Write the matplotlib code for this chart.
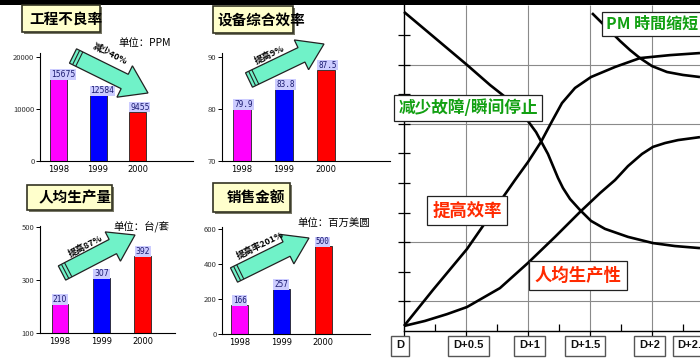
import matplotlib
matplotlib.use('Agg')
import matplotlib.pyplot as plt
import matplotlib.patches as mpatches
import numpy as np
from matplotlib.transforms import blended_transform_factory

plt.rcParams['font.family'] = ['Noto Sans CJK SC', 'DejaVu Sans']

# ---------------- data ----------------
years = ['1998', '1999', '2000']
bar_colors = ['#ff00ff', '#0000ff', '#ff0000']

defect_title = '工程不良率'
defect_unit = '单位：PPM'
defect_values = [15675, 12584, 9455]
defect_labels = ['15675', '12584', '9455']
defect_yticks = [0, 10000, 20000]
defect_arrow_text = '减少40%'

oee_title = '设备综合效率'
oee_values = [79.9, 83.8, 87.5]
oee_labels = ['79.9', '83.8', '87.5']
oee_yticks = [70, 80, 90]
oee_arrow_text = '提高9%'

prod_title = '人均生产量'
prod_unit = '单位：台/套'
prod_values = [210, 307, 392]
prod_labels = ['210', '307', '392']
prod_yticks = [100, 300, 500]
prod_arrow_text = '提高87%'

sales_title = '销售金额'
sales_unit = '单位：百万美圆'
sales_values = [166, 257, 500]
sales_labels = ['166', '257', '500']
sales_yticks = [0, 200, 400, 600]
sales_arrow_text = '提高率201%'

# right chart (x in D units, y in tick units)
phase_ticks = [0, 0.5, 1, 1.5, 2]
phase_minor = [0.25, 0.75, 1.25, 1.75, 2.25]
phase_labels = ['D', 'D+0.5', 'D+1', 'D+1.5', 'D+2', 'D+2.5']
phase_label_x = [-0.03, 0.52, 1.01, 1.46, 1.98, 2.33]
level_ticks = [1, 2, 3, 4, 5, 6, 7, 8, 9, 10]
level_grid = [1, 3, 7, 9]

fault_x = [0.0, 0.25, 0.508, 0.694, 0.815, 0.919, 1.0, 1.065, 1.113, 1.161, 1.202, 1.242,
           1.282, 1.339, 1.419, 1.508, 1.621, 1.806, 2.008, 2.185, 2.387]
fault_y = [10.78, 9.90, 8.99, 8.31, 7.91, 7.47, 7.09, 6.72, 6.35, 5.98, 5.57, 5.17,
           4.83, 4.46, 4.09, 3.72, 3.45, 3.18, 2.97, 2.87, 2.80]

pm_x = [1.516, 1.581, 1.661, 1.742, 1.823, 1.903, 2.0, 2.121, 2.25, 2.387]
pm_y = [10.74, 10.47, 10.14, 9.80, 9.49, 9.22, 8.95, 8.75, 8.65, 8.58]

eff_x = [0.0, 0.234, 0.508, 0.710, 0.895, 1.0, 1.105, 1.194, 1.274, 1.379, 1.508, 1.702,
         1.903, 2.145, 2.387]
eff_y = [0.17, 1.39, 2.77, 3.99, 5.10, 5.71, 6.39, 7.09, 7.70, 8.21, 8.58, 8.92,
         9.22, 9.32, 9.39]

prodc_x = [0.0, 0.169, 0.347, 0.508, 0.774, 1.0, 1.218, 1.419, 1.581, 1.702, 1.806, 1.919,
           2.008, 2.105, 2.21, 2.387]
prodc_y = [0.17, 0.34, 0.57, 0.81, 1.45, 2.30, 3.18, 4.02, 4.66, 5.10, 5.57, 5.98,
           6.22, 6.35, 6.45, 6.55]

# ---------------- figure ----------------
W, H = 700, 364
fig = plt.figure(figsize=(W / 100, H / 100), dpi=100)
fig.patch.set_facecolor('white')


def ax_px(l, t, r, b, **kw):
    return fig.add_axes([l / W, 1 - b / H, (r - l) / W, (b - t) / H], **kw)


def bar_panel(l, t, r, b, centers, bw_px, ylim, values, labels, yticks, mono=False):
    s = (centers[2] - centers[0]) / 2.0
    ax = ax_px(l, t, r, b)
    ax.set_xlim((l - centers[0]) / s, (r - centers[0]) / s)
    ax.set_ylim(*ylim)
    x = np.arange(len(values))
    w = bw_px / s
    ax.bar(x, values, width=w, color=bar_colors, edgecolor='#222222', linewidth=0.6, zorder=2)
    fam = ['DejaVu Sans Mono'] if mono else ['DejaVu Sans']
    for xi, v, lab in zip(x, values, labels):
        ax.text(xi - w / 2 + 0.03, v, lab, ha='left', va='bottom', fontsize=5.5,
                color='#1a1a70', family=fam,
                bbox=dict(boxstyle='square,pad=0.1', facecolor='#ccccff', edgecolor='none'),
                zorder=3)
    for sp in ['top', 'right']:
        ax.spines[sp].set_visible(False)
    ax.spines['left'].set_linewidth(0.8)
    ax.spines['bottom'].set_linewidth(0.8)
    ax.set_yticks(yticks)
    ax.set_yticklabels([str(v) for v in yticks], fontsize=5.5, color='#333333')
    ax.tick_params(axis='y', length=3, width=0.7, pad=1)
    ax.set_xticks(x)
    ax.set_xticklabels(years, fontsize=6, family=['DejaVu Sans'])
    ax.tick_params(axis='x', length=0, pad=3)
    ax.patch.set_alpha(0)
    return ax


bar_panel(40, 53, 193, 161, (58.5, 98, 137.5), 17, (0, 20710), defect_values, defect_labels, defect_yticks)
bar_panel(222, 53, 390, 160.7, (242, 284, 326), 18, (70, 90.7), oee_values, oee_labels, oee_yticks, mono=True)
bar_panel(40, 226, 175, 333.3, (60, 101.5, 142.5), 16.5, (100, 505), prod_values, prod_labels, prod_yticks)
bar_panel(222, 227, 370, 334, (240, 281.5, 323), 17, (0, 611), sales_values, sales_labels, sales_yticks, mono=True)

# ---------------- right chart ----------------
axr = ax_px(404, 5, 700, 331)
xmax = 296 / 124.0
ymax = 326 / 29.6
axr.set_xlim(0, xmax)
axr.set_ylim(0, ymax)
axr.vlines(phase_ticks[1:], 0, ymax, color='#8a8a8a', linewidth=0.8, zorder=1)
axr.hlines(level_grid, 0, xmax, color='#8a8a8a', linewidth=0.8, zorder=1)
for cx, cy in [(fault_x, fault_y), (pm_x, pm_y), (eff_x, eff_y), (prodc_x, prodc_y)]:
    axr.plot(cx, cy, color='black', linewidth=1.9, solid_capstyle='butt',
             solid_joinstyle='round', zorder=3, clip_on=False)
for sp in ['top', 'right']:
    axr.spines[sp].set_visible(False)
axr.spines['left'].set_linewidth(1.0)
axr.spines['bottom'].set_linewidth(1.0)
axr.set_yticks(level_ticks)
axr.set_yticklabels([])
axr.tick_params(axis='y', direction='inout', length=8, width=0.9)
axr.set_xticks(phase_ticks)
axr.set_xticklabels([])
axr.set_xticks(phase_minor, minor=True)
axr.tick_params(axis='x', which='major', direction='out', length=5, width=0.9)
axr.tick_params(axis='x', which='minor', direction='in', length=5, width=0.9)
axr.patch.set_alpha(0)

green = '#12a012'
red = '#ff2a00'
box_kw = dict(boxstyle='square,pad=0.24', facecolor='white', edgecolor='#222222', linewidth=0.9)
axr.text(1.63, 10.37, 'PM 時間缩短', ha='left', va='center', fontsize=11.5, color=green,
         weight='bold', bbox=box_kw, zorder=5, clip_on=False)
axr.text(0.516, 7.55, '减少故障/瞬间停止', ha='center', va='center', fontsize=12, color=green,
         weight='bold', bbox=box_kw, zorder=5, clip_on=False)
axr.text(0.508, 4.07, '提高效率', ha='center', va='center', fontsize=12.5, color=red,
         weight='bold', bbox=dict(box_kw, boxstyle='square,pad=0.3'), zorder=5, clip_on=False)
axr.text(1.403, 1.875, '人均生产性', ha='center', va='center', fontsize=12.5, color=red,
         weight='bold', bbox=dict(box_kw, boxstyle='square,pad=0.3'), zorder=5, clip_on=False)

# ---------------- overlay (pixel coordinates) ----------------
ov = fig.add_axes([0, 0, 1, 1], zorder=10)
ov.set_xlim(0, W)
ov.set_ylim(H, 0)
ov.axis('off')
ov.patch.set_alpha(0)

# phase labels in boxes
tr = blended_transform_factory(axr.transData, ov.transData)
for lx, lab in zip(phase_label_x, phase_labels):
    ov.text(lx, 345.5, lab, transform=tr, ha='center', va='center', fontsize=8,
            family=['Liberation Sans'], weight='bold', color='#111111',
            bbox=dict(boxstyle='square,pad=0.45', facecolor='white', edgecolor='#555555', linewidth=1.0),
            clip_on=False)

# black band at top
ov.add_patch(mpatches.Rectangle((0, 0), W, 5, facecolor='black', edgecolor='none'))


def title_box(x0, y0, x1, y1, text, tx, ty):
    ov.add_patch(mpatches.Rectangle((x0 + 2, y0 + 2), x1 - x0, y1 - y0, facecolor='#777766', edgecolor='none'))
    ov.add_patch(mpatches.Rectangle((x0, y0), x1 - x0, y1 - y0, facecolor='#ffffcc', edgecolor='#333322', linewidth=1.2))
    ov.text(tx, ty, text, ha='center', va='center', fontsize=10.5, color='black', weight='bold')


title_box(22, 5, 100, 32, defect_title, 66, 19)
title_box(213, 6, 293, 33, oee_title, 261, 19.5)
title_box(27, 185, 112, 210, prod_title, 75, 197)
title_box(213, 183, 290, 212, sales_title, 256, 197)

ov.text(118, 43, defect_unit, ha='left', va='center', fontsize=7.5, color='black')
ov.text(113, 226, prod_unit, ha='left', va='center', fontsize=7.5, color='black')
ov.text(297, 223, sales_unit, ha='left', va='center', fontsize=7.5, color='black')


def draw_arrow(tail, tip, sw, hw, hl, text, tpos):
    tail = np.array(tail, float)
    tip = np.array(tip, float)
    d = tip - tail
    L = np.hypot(*d)
    u = d / L
    n = np.array([-u[1], u[0]])
    base = tip - u * hl
    pts = [tail + n * sw / 2, base + n * sw / 2, base + n * hw / 2, tip,
           base - n * hw / 2, base - n * sw / 2, tail - n * sw / 2]
    ov.add_patch(mpatches.Polygon(pts, closed=True, facecolor='#70f2c8', edgecolor='#222222', linewidth=0.9))
    for s in [3.5, 7.0]:
        p0 = tail + u * s + n * (sw / 2 - 0.6)
        p1 = tail + u * s - n * (sw / 2 - 0.6)
        ov.plot([p0[0], p1[0]], [p0[1], p1[1]], color='#222222', linewidth=0.8)
    ang = -np.degrees(np.arctan2(d[1], d[0]))
    ov.text(tpos[0], tpos[1], text, ha='center', va='center', rotation=ang, rotation_mode='anchor',
            fontsize=6.5, weight='bold', color='black')


draw_arrow((73, 56), (148, 93), 16, 35, 26, defect_arrow_text, (110, 54))
draw_arrow((249, 80), (324, 44), 16, 33, 25, oee_arrow_text, (270, 55))
draw_arrow((62, 273), (135, 235), 16, 33, 25, prod_arrow_text, (86, 246))
draw_arrow((234, 275), (309, 238), 16, 33, 25, sales_arrow_text, (260, 245))

fig.savefig('out.png', dpi=100, facecolor='white')
